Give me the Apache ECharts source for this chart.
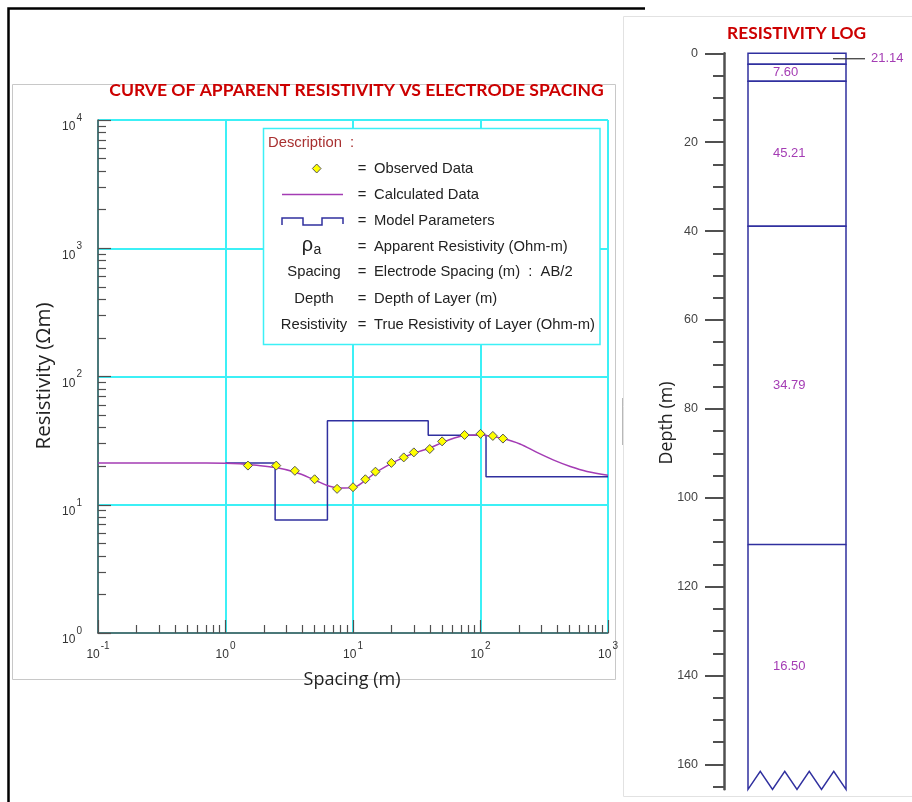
<!DOCTYPE html>
<html><head><meta charset="utf-8">
<script src="https://cdn.jsdelivr.net/npm/echarts@6/dist/echarts.min.js"></script>
<style>html,body{margin:0;padding:0;background:#fff}#c{width:912px;height:802px}</style>
</head><body><div id="c"></div>
<script>
// ---- data ----
const obsSpacing = [1.5, 2.5, 3.5, 5, 7.5, 10, 12.5, 15, 20, 25, 30, 40, 50, 75, 100, 125, 150];
const obsRho     = [20.2, 20.2, 18.4, 15.8, 13.3, 13.7, 15.8, 18.1, 21.2, 23.4, 25.6, 27.2, 31.2, 35.0, 35.7, 34.4, 32.8];
const calcSpacing = [0.1, 0.5, 1.0, 1.3, 1.67, 2.48, 3.54, 5.0, 6.45, 7.96, 9.94, 12.4, 14.8, 19.7, 24.5, 30.1, 40, 50, 61.6, 75.4, 100, 125, 148, 204, 277, 375, 506, 684, 1000];
const calcRho     = [21.14, 21.14, 21.1, 20.9, 20.4, 19.5, 17.9, 15.6, 14.0, 13.5, 13.6, 15.4, 17.6, 20.8, 23.2, 25.2, 27.7, 30.5, 33.0, 34.7, 35.0, 34.0, 33.0, 29.8, 25.6, 22.3, 19.9, 18.2, 17.0];
const layerRho   = [21.14, 7.60, 45.21, 34.79, 16.50];
const layerDepth = [2.45, 6.3, 38.9, 110.5];   // interface depths (m)
const modelStartSpacing = 1.0;
const spacingMin = 0.1, spacingMax = 1000;
const rhoMin = 1, rhoMax = 10000;
const logBottomDepth = 165.6;
const depthTicks = [0, 20, 40, 60, 80, 100, 120, 140, 160];
const depthMinorTicks = [5, 10, 15, 25, 30, 35, 45, 50, 55, 65, 70, 75, 85, 90, 95, 105, 110, 115, 125, 130, 135, 145, 150, 155, 165];
const legendRows = [
  ['', 'Observed Data'],
  ['', 'Calculated Data'],
  ['', 'Model Parameters'],
  ['ρ', 'Apparent Resistivity (Ohm-m)'],
  ['Spacing', 'Electrode Spacing (m)  :  AB/2'],
  ['Depth', 'Depth of Layer (m)'],
  ['Resistivity', 'True Resistivity of Layer (Ohm-m)']
];

// ---- derived ----
const modelLine = [];
(function(){ let x0 = modelStartSpacing;
  for (let i = 0; i < layerRho.length; i++) {
    const x1 = i < layerDepth.length ? layerDepth[i] : spacingMax;
    modelLine.push([x0, layerRho[i]], [x1, layerRho[i]]); x0 = x1; }
})();
const layers = layerRho.map((r, i) => [i === 0 ? 0 : layerDepth[i-1], i < layerDepth.length ? layerDepth[i] : logBottomDepth, r, i]);
function minorLog(lo, hi){ const o=[]; for(let e=lo;e<hi;e++) for(let k=2;k<=9;k++) o.push(+(k*Math.pow(10,e)).toPrecision(6)); return o; }

const NAVY='#30309f', PURPLE='#a43cb4', CYAN='#3cf0f6', AXIS='#505050', LABEL='#333333', RED='#cc0000';
const mctx = document.createElement('canvas').getContext('2d');
function fit(text, weight, family, w){ mctx.font = weight+' 100px '+family; return 100*w/mctx.measureText(text).width; }

const titleFam = 'Lato', nameFam = 'Open Sans', lgFam = 'Liberation Sans';
const t1 = fit('CURVE OF APPARENT RESISTIVITY VS ELECTRODE SPACING','bold',titleFam,495);
const t2 = fit('RESISTIVITY LOG','bold',titleFam,139);
const nY = fit('Resistivity (Ωm)','normal',nameFam,147);
const nX = fit('Spacing (m)','normal',nameFam,97);
const nD = fit('Depth (m)','normal',nameFam,83);
const lgS = fit('True Resistivity of Layer (Ohm-m)','normal',lgFam,221);

const expFmt = v => '{b|10}{s|' + Math.round(Math.log10(v)) + '}';
const rich = { b:{fontSize:12,fontFamily:'Liberation Sans',color:LABEL,lineHeight:20,verticalAlign:'bottom'},
               s:{fontSize:10,fontFamily:'Liberation Sans',color:LABEL,lineHeight:10,verticalAlign:'top',padding:[0,0,0,1]} };

const G = [];
// outer frames
G.push({type:'polyline', z:0, shape:{points:[[8.5,802],[8.5,8.5],[645,8.5]]}, style:{stroke:'#000',lineWidth:2.5,fill:null}});
G.push({type:'rect', z:0, shape:{x:12.5,y:84.5,width:603,height:595}, style:{stroke:'#c8c8c8',fill:null,lineWidth:1}});
G.push({type:'rect', z:0, shape:{x:623.5,y:16.5,width:300,height:780}, style:{stroke:'#e2e2e2',fill:'#fff',lineWidth:1}});
G.push({type:'line', z:1, shape:{x1:622.5,y1:398,x2:622.5,y2:445}, style:{stroke:'#b8b8b8',lineWidth:1}});
// titles
G.push({type:'text', z:10, style:{text:'CURVE OF APPARENT RESISTIVITY VS ELECTRODE SPACING',x:356.5,y:90,textAlign:'center',textVerticalAlign:'middle',font:'bold '+t1.toFixed(2)+'px '+titleFam,fill:RED}});
G.push({type:'text', z:10, style:{text:'RESISTIVITY LOG',x:796.5,y:33,textAlign:'center',textVerticalAlign:'middle',font:'bold '+t2.toFixed(2)+'px '+titleFam,fill:RED}});
// axis names
G.push({type:'text', z:10, x:44, y:376, rotation:Math.PI/2, style:{text:'Resistivity (Ωm)',x:0,y:0,textAlign:'center',textVerticalAlign:'middle',font:nY.toFixed(2)+'px '+nameFam,fill:'#222'}});
G.push({type:'text', z:10, style:{text:'Spacing (m)',x:352,y:680,textAlign:'center',textVerticalAlign:'middle',font:nX.toFixed(2)+'px '+nameFam,fill:'#222'}});
G.push({type:'text', z:10, x:667, y:423, rotation:Math.PI/2, style:{text:'Depth (m)',x:0,y:0,textAlign:'center',textVerticalAlign:'middle',font:nD.toFixed(2)+'px '+nameFam,fill:'#222'}});
// legend box
G.push({type:'rect', z:20, shape:{x:263.5,y:128.5,width:336.5,height:216}, style:{stroke:CYAN,fill:'#fff',lineWidth:1.5}});
G.push({type:'text', z:21, style:{text:'Description  :',x:268,y:142.5,textVerticalAlign:'middle',font:lgS.toFixed(2)+'px '+lgFam,fill:'#a83030'}});
const rowY = [168.5, 194.5, 220.5, 246.5, 272, 298.5, 324.5];
legendRows.forEach((r, i) => {
  const y = rowY[i];
  G.push({type:'text', z:21, style:{text:'=',x:362,y:y,textAlign:'center',textVerticalAlign:'middle',font:lgS.toFixed(2)+'px '+lgFam,fill:'#222'}});
  G.push({type:'text', z:21, style:{text:r[1],x:374,y:y,textVerticalAlign:'middle',font:lgS.toFixed(2)+'px '+lgFam,fill:'#222'}});
  if (r[0] && i > 3) G.push({type:'text', z:21, style:{text:r[0],x:314,y:y,textAlign:'center',textVerticalAlign:'middle',font:lgS.toFixed(2)+'px '+lgFam,fill:'#222'}});
});
G.push({type:'text', z:21, style:{text:'ρ',x:307.5,y:245,textAlign:'center',textVerticalAlign:'middle',font:(lgS*1.35).toFixed(2)+'px '+lgFam,fill:'#222'}});
G.push({type:'text', z:21, style:{text:'a',x:313.5,y:250,textVerticalAlign:'middle',font:(lgS*0.95).toFixed(2)+'px '+lgFam,fill:'#222'}});
G.push({type:'polygon', z:21, shape:{points:[[316.7,164],[321,168.5],[316.7,173],[312.4,168.5]]}, style:{fill:'#ffff00',stroke:'#555',lineWidth:1}});
G.push({type:'line', z:21, shape:{x1:282,y1:194.5,x2:343,y2:194.5}, style:{stroke:PURPLE,lineWidth:1.5}});
G.push({type:'polyline', z:21, shape:{points:[[282,225],[282,218],[303,218],[303,225],[322,225],[322,218],[343,218],[343,224]]}, style:{stroke:NAVY,lineWidth:1.5,fill:null}});

const option = {
  animation:false,
  backgroundColor:'#fff',
  grid:[
    {left:98, top:120, width:510, height:513, outerBoundsMode:'none', containLabel:false},
    {left:748, top:53.3, width:98, height:736, outerBoundsMode:'none', containLabel:false}
  ],
  xAxis:[
    {type:'log', logBase:10, gridIndex:0, min:spacingMin, max:spacingMax, position:'bottom',
     axisLine:{show:true,onZero:false,lineStyle:{color:AXIS,width:1.5}},
     axisTick:{show:true,inside:true,length:13,lineStyle:{color:AXIS,width:1.2}},
     minorTick:{show:false},
     splitLine:{show:true,lineStyle:{color:CYAN,width:2}},
     axisLabel:{show:true,margin:8,formatter:expFmt,rich:rich,showMinLabel:true,showMaxLabel:true}},
    {type:'log', logBase:10, gridIndex:0, min:spacingMin, max:spacingMax, position:'bottom',
     axisLine:{show:false,onZero:false},
     axisTick:{show:true,inside:true,length:8,customValues:minorLog(-1,3),lineStyle:{color:AXIS,width:1.2}},
     splitLine:{show:false}, axisLabel:{show:false}},
    {type:'value', gridIndex:1, min:0, max:1, show:false}
  ],
  yAxis:[
    {type:'log', logBase:10, gridIndex:0, min:rhoMin, max:rhoMax, position:'left',
     axisLine:{show:true,onZero:false,lineStyle:{color:AXIS,width:1.5}},
     axisTick:{show:true,inside:true,length:13,lineStyle:{color:AXIS,width:1.2}},
     splitLine:{show:true,lineStyle:{color:CYAN,width:2}},
     axisLabel:{show:true,margin:16,formatter:expFmt,rich:rich,padding:[6,0,0,0],showMinLabel:true,showMaxLabel:true}},
    {type:'log', logBase:10, gridIndex:0, min:rhoMin, max:rhoMax, position:'left',
     axisLine:{show:false,onZero:false},
     axisTick:{show:true,inside:true,length:8,customValues:minorLog(0,4),lineStyle:{color:AXIS,width:1.2}},
     splitLine:{show:false}, axisLabel:{show:false}},
    {type:'value', gridIndex:1, min:0, max:logBottomDepth, inverse:true, position:'left', offset:24,
     axisLine:{show:true,onZero:false,lineStyle:{color:AXIS,width:2.5}},
     axisTick:{show:true,inside:false,length:19,customValues:depthTicks,lineStyle:{color:AXIS,width:2}},
     splitLine:{show:false},
     axisLabel:{show:true,margin:26,customValues:depthTicks,color:'#444',fontSize:12.5,fontFamily:'Liberation Sans'}},
    {type:'value', gridIndex:1, min:0, max:logBottomDepth, inverse:true, position:'left', offset:24,
     axisLine:{show:false,onZero:false},
     axisTick:{show:true,inside:false,length:11,customValues:depthMinorTicks,lineStyle:{color:AXIS,width:2}},
     splitLine:{show:false}, axisLabel:{show:false}}
  ],
  series:[
    {type:'line', name:'Model Parameters', xAxisIndex:0, yAxisIndex:0, data:modelLine, symbol:'none',
     lineStyle:{color:NAVY,width:1.5}, z:3},
    {type:'line', name:'Calculated Data', xAxisIndex:0, yAxisIndex:0, data:calcSpacing.map((x,i)=>[x,calcRho[i]]),
     symbol:'none', smooth:0.35, lineStyle:{color:PURPLE,width:1.5}, z:4},
    {type:'scatter', name:'Observed Data', xAxisIndex:0, yAxisIndex:0, data:obsSpacing.map((x,i)=>[x,obsRho[i]]),
     symbol:'diamond', symbolSize:[9,9], itemStyle:{color:'#ffff00',borderColor:'#555',borderWidth:1,opacity:1}, z:5},
    {type:'custom', name:'Resistivity log', xAxisIndex:2, yAxisIndex:2, clip:false, data:layers,
     encode:{x:-1, y:[0,1]},
     renderItem:function(params, api){
       const top=api.value(0), bot=api.value(1), rho=api.value(2), idx=api.value(3);
       const a=api.coord([0,top]), b=api.coord([1,bot]);
       const w=b[0]-a[0], midY=(a[1]+b[1])/2;
       const ch=[];
       const st={stroke:NAVY,fill:null,lineWidth:1.5};
       if (idx < layerRho.length-1) {
         ch.push({type:'rect',shape:{x:a[0],y:a[1],width:w,height:b[1]-a[1]},style:st});
       } else {
         const pts=[[a[0],a[1]],[a[0],b[1]]];
         for(let k=1;k<=8;k++) pts.push([a[0]+k*w/8, k%2 ? b[1]-18 : b[1]]);
         pts.push([b[0],a[1]]);
         ch.push({type:'polyline',shape:{points:pts},style:st});
       }
       const txt=rho.toFixed(2);
       if (idx===0) {
         ch.push({type:'line',shape:{x1:b[0]-13,y1:midY,x2:b[0]+19,y2:midY},style:{stroke:'#333',lineWidth:1.2}});
         ch.push({type:'text',style:{text:txt,x:b[0]+25,y:midY,textVerticalAlign:'middle',font:'13px Liberation Sans',fill:PURPLE}});
       } else {
         ch.push({type:'text',style:{text:txt,x:a[0]+25,y:midY,textVerticalAlign:'middle',font:'13px Liberation Sans',fill:PURPLE}});
       }
       return {type:'group',children:ch};
     }}
  ],
  graphic:{elements:G}
};
const chart = echarts.init(document.getElementById('c'), null, {renderer:'canvas', width:912, height:802});
chart.setOption(option);
</script></body></html>
